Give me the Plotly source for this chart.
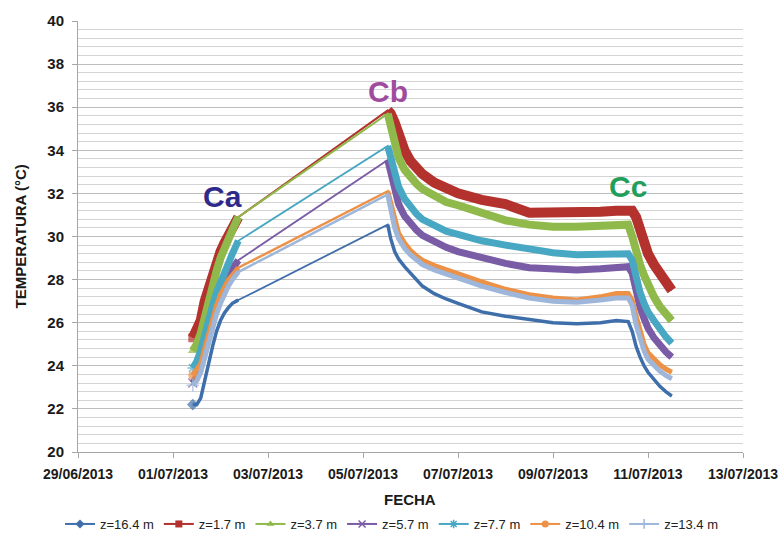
import plotly.graph_objects as go

# Measurement timestamps: first heating period and the long record after the peak
rise_times = ["2013-07-01 10:00", "2013-07-01 12:00", "2013-07-01 14:00", "2013-07-01 16:00",
              "2013-07-01 18:00", "2013-07-01 20:00", "2013-07-01 22:00", "2013-07-02 00:00",
              "2013-07-02 02:00", "2013-07-02 04:00", "2013-07-02 06:00", "2013-07-02 08:00",
              "2013-07-02 09:00"]
decay_times = ["2013-07-05 12:30", "2013-07-05 14:00", "2013-07-05 16:00", "2013-07-05 18:00",
               "2013-07-05 21:00", "2013-07-06 00:00", "2013-07-06 03:00", "2013-07-06 06:00",
               "2013-07-06 12:00", "2013-07-06 18:00", "2013-07-07 00:00", "2013-07-07 12:00",
               "2013-07-08 00:00", "2013-07-08 12:00", "2013-07-09 00:00", "2013-07-09 12:00",
               "2013-07-10 00:00", "2013-07-10 08:00", "2013-07-10 14:00", "2013-07-10 16:00",
               "2013-07-10 18:00", "2013-07-10 20:00", "2013-07-10 22:00", "2013-07-11 00:00",
               "2013-07-11 03:00", "2013-07-11 06:00", "2013-07-11 09:00", "2013-07-11 12:00"]

series_names = ["z=16.4 m", "z=1.7 m", "z=3.7 m", "z=5.7 m", "z=7.7 m", "z=10.4 m", "z=13.4 m"]

# Temperatures (ºC) per depth
rise_z16_4 = [22.2, 22.2, 22.5, 23.4, 24.1, 24.9, 25.6, 26.1, 26.45, 26.7, 26.9, 27.0, 27.05]
rise_z1_7 = [25.3, 25.6, 26.1, 27.0, 27.65, 28.3, 28.85, 29.3, 29.7, 30.1, 30.45, 30.75, 30.9]
rise_z3_7 = [24.7, 25.0, 25.5, 26.3, 27.1, 27.8, 28.4, 29.0, 29.5, 29.9, 30.3, 30.7, 30.9]
rise_z5_7 = [23.2, 23.5, 24.0, 24.8, 25.5, 26.2, 26.8, 27.3, 27.75, 28.15, 28.5, 28.8, 28.9]
rise_z7_7 = [23.9, 24.2, 24.7, 25.5, 26.2, 26.8, 27.4, 27.9, 28.35, 28.8, 29.2, 29.6, 29.8]
rise_z10_4 = [23.55, 23.8, 24.1, 24.8, 25.5, 26.2, 26.8, 27.3, 27.7, 28.0, 28.2, 28.45, 28.55]
rise_z13_4 = [23.1, 23.3, 23.7, 24.4, 25.1, 25.8, 26.4, 26.9, 27.35, 27.7, 28.0, 28.25, 28.35]

decay_z16_4 = [30.55, 29.9, 29.3, 28.95, 28.6, 28.3, 28.0, 27.7, 27.35, 27.1, 26.9, 26.5, 26.3, 26.15,
               26.0, 25.95, 26.0, 26.1, 26.05, 25.6, 24.9, 24.4, 24.0, 23.7, 23.35, 23.05, 22.8, 22.6]
decay_z1_7 = [35.85, 35.7, 35.3, 34.7, 34.0, 33.5, 33.15, 32.9, 32.5, 32.2, 32.0, 31.7, 31.5, 31.1,
              31.1, 31.05, 31.15, 31.2, 31.25, 31.2, 30.9, 30.3, 29.6, 29.2, 28.7, 28.25, 27.85, 27.5]
decay_z3_7 = [35.7, 35.2, 34.3, 33.65, 33.1, 32.75, 32.45, 32.2, 31.85, 31.6, 31.45, 31.1, 30.75, 30.55,
              30.45, 30.45, 30.5, 30.6, 30.55, 30.0, 29.2, 28.7, 28.2, 27.75, 27.2, 26.75, 26.4, 26.1]
decay_z5_7 = [33.55, 33.0, 32.1, 31.5, 30.95, 30.6, 30.3, 30.05, 29.75, 29.5, 29.3, 29.0, 28.75, 28.55,
              28.5, 28.45, 28.5, 28.6, 28.6, 28.3, 27.4, 26.7, 26.2, 25.75, 25.3, 24.95, 24.65, 24.4]
decay_z7_7 = [34.2, 33.7, 32.9, 32.3, 31.75, 31.35, 31.05, 30.8, 30.5, 30.25, 30.1, 29.8, 29.6, 29.4,
              29.25, 29.15, 29.2, 29.25, 29.2, 28.9, 28.0, 27.4, 26.9, 26.5, 26.1, 25.7, 25.35, 25.05]
decay_z10_4 = [32.1, 31.5, 30.7, 30.15, 29.7, 29.35, 29.1, 28.9, 28.65, 28.45, 28.25, 27.9, 27.55, 27.3,
               27.15, 27.05, 27.2, 27.35, 27.35, 27.05, 26.3, 25.6, 25.0, 24.6, 24.3, 24.05, 23.85, 23.7]
decay_z13_4 = [31.95, 31.2, 30.4, 29.9, 29.45, 29.15, 28.9, 28.7, 28.45, 28.25, 28.05, 27.7, 27.4, 27.15,
               27.0, 26.95, 27.05, 27.15, 27.15, 26.8, 25.9, 25.2, 24.7, 24.3, 24.0, 23.75, 23.55, 23.4]

rise_values = [rise_z16_4, rise_z1_7, rise_z3_7, rise_z5_7, rise_z7_7, rise_z10_4, rise_z13_4]
decay_values = [decay_z16_4, decay_z1_7, decay_z3_7, decay_z5_7, decay_z7_7, decay_z10_4, decay_z13_4]

colors = ["#3F6FAA", "#B3322E", "#8FB94A", "#7A5BA5", "#48A7C2", "#EC9146", "#9DB6DA"]
symbols = ["diamond", "square", "triangle-up", "x-thin", "asterisk", "circle", "cross-thin"]
band_widths = [3.5, 10, 8, 7, 7, 5, 5]
link_widths = [1.8, 2, 2, 1.8, 1.8, 2.5, 2.5]

fig = go.Figure()

for name, rv, dv, c, sym, bw, lw in zip(series_names, rise_values, decay_values, colors,
                                        symbols, band_widths, link_widths):
    thin_sym = sym in ("x-thin", "asterisk", "cross-thin")
    mline = dict(color=c, width=1.5 if thin_sym else 0)
    xs = rise_times + decay_times
    ys = rv + dv
    # Continuous record with a thin link across the unlogged days; marker on the first reading
    fig.add_trace(go.Scatter(
        x=xs, y=ys, mode="lines+markers", showlegend=False,
        line=dict(color=c, width=lw),
        marker=dict(symbol=sym, size=[9] + [0] * (len(xs) - 1), color=c, line=mline),
    ))
    # Dense logging periods drawn as a broad band
    fig.add_trace(go.Scatter(
        x=rise_times + [None] + decay_times, y=rv + [None] + dv, mode="lines",
        line=dict(color=c, width=bw), showlegend=False, connectgaps=False,
    ))
    # Legend entry
    fig.add_trace(go.Scatter(
        x=[None], y=[None], name=name, mode="lines+markers",
        line=dict(color=c, width=2),
        marker=dict(symbol=sym, size=7, color=c, line=mline),
    ))

bold = "Liberation Sans"
label_font = dict(family=bold, size=30, weight="bold")
fig.add_annotation(x="2013-07-02 01:00", y=31.85, text="Ca", showarrow=False,
                   font=dict(label_font, color="#2F2A8A"))
fig.add_annotation(x="2013-07-05 12:40", y=36.75, text="Cb", showarrow=False,
                   font=dict(label_font, color="#A04C9E"))
fig.add_annotation(x="2013-07-10 14:00", y=32.3, text="Cc", showarrow=False,
                   font=dict(label_font, color="#1F9E5C"))

# Axis titles
title_font = dict(family=bold, size=15, weight="bold", color="#1A1A1A")
fig.add_annotation(xref="paper", yref="paper", x=(20 - 78) / 665, y=0.5, text="TEMPERATURA (°C)",
                   textangle=-90, showarrow=False, font=title_font,
                   xanchor="center", yanchor="middle")
fig.add_annotation(xref="paper", yref="paper", x=(410 - 78) / 665, y=-(499 - 452) / 431,
                   text="FECHA", showarrow=False, font=title_font,
                   xanchor="center", yanchor="middle")

fig.update_layout(
    width=783, height=552,
    margin=dict(l=78, r=40, t=21, b=100, autoexpand=False),
    paper_bgcolor="white", plot_bgcolor="white",
    font=dict(family=bold, color="#1A1A1A"),
    showlegend=True,
    legend=dict(orientation="h", xref="container", yref="container",
                x=0.5, xanchor="center", y=1 - 524 / 552, yanchor="middle",
                font=dict(family=bold, size=13, color="#222"),
                itemwidth=30, tracegroupgap=0, bgcolor="rgba(0,0,0,0)"),
    xaxis=dict(
        type="date", range=["2013-06-29", "2013-07-13"], automargin=False,
        tickvals=["2013-06-29", "2013-07-01", "2013-07-03", "2013-07-05", "2013-07-07",
                  "2013-07-09", "2013-07-11", "2013-07-13"],
        tickformat="%d/%m/%Y",
        tickfont=dict(family=bold, size=14, weight="bold", color="#1A1A1A"),
        ticklabelstandoff=4,
        showgrid=False, zeroline=False,
        showline=True, linecolor="#A6A6A6", linewidth=1,
        ticks="outside", ticklen=5, tickcolor="#A6A6A6",
    ),
    yaxis=dict(
        range=[20, 40], dtick=2, tick0=20, automargin=False,
        tickfont=dict(family=bold, size=15, weight="bold", color="#1A1A1A"),
        ticklabelstandoff=5,
        showgrid=True, gridcolor="#BDBDBD", gridwidth=1,
        minor=dict(dtick=0.4, tick0=20, showgrid=True, gridcolor="#D4D4D4", gridwidth=1),
        zeroline=False,
        showline=True, linecolor="#A6A6A6", linewidth=1,
        ticks="outside", ticklen=5, tickcolor="#A6A6A6",
    ),
)

fig.write_html("out.html")
